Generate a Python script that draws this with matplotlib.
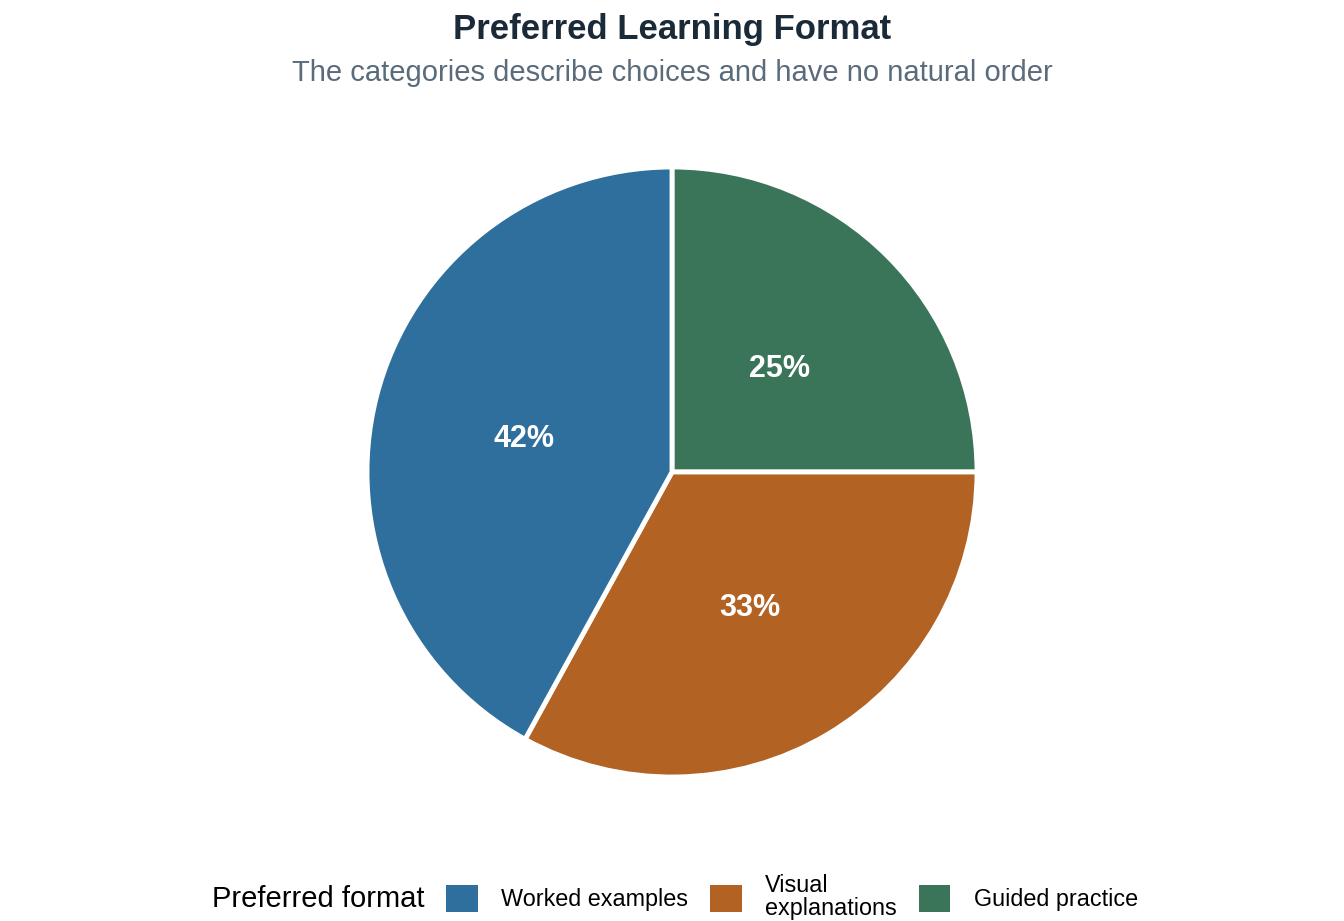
import numpy as np
import matplotlib.pyplot as plt
from matplotlib.patches import Patch

plt.rcParams['font.family'] = ['Liberation Sans', 'DejaVu Sans']

formats = ['Worked examples', 'Visual\nexplanations', 'Guided practice']
shares = [42, 33, 25]
colors = ['#2E6F9E', '#B26223', '#3A7459']

fig = plt.figure(figsize=(13.44, 9.21), dpi=100)
# pie centre ~ (672, 472) px, radius ~305 px
ax = fig.add_axes([(672 - 310) / 1344, 1 - (472 + 310) / 921, 620 / 1344, 620 / 921])

# draw clockwise from 12 o'clock, in reverse order so Guided practice comes first
vals = shares[::-1]
cols = colors[::-1]
r = 305 / 310
wedges, texts = ax.pie(vals, colors=cols, startangle=90, counterclock=False,
                       radius=r, wedgeprops=dict(edgecolor='white', linewidth=3.5))
start = 90
for v in vals:
    mid = np.deg2rad(start - v * 3.6 / 2)
    start -= v * 3.6
    ax.text(0.5 * r * np.cos(mid), 0.5 * r * np.sin(mid) - 0.015, f'{v}%',
            ha='center', va='center', color='white', fontsize=22, fontweight='bold')
ax.set_xlim(-1, 1)
ax.set_ylim(-1, 1)
ax.set_aspect('equal')
ax.axis('off')

fig.text(0.5, 1 - 29 / 921, 'Preferred Learning Format', ha='center', va='center',
         fontsize=25, fontweight='bold', color='#1B2A38')
fig.text(0.5, 1 - 73 / 921, 'The categories describe choices and have no natural order',
         ha='center', va='center', fontsize=21, color='#5A6B7B')

fig.text(212 / 1344, 1 - 899 / 921, 'Preferred format', ha='left', va='center',
         fontsize=21, color='black')
handles = [Patch(facecolor=c, edgecolor='none') for c in colors]
leg = fig.legend(handles, formats, ncol=3, loc='center left',
                 bbox_to_anchor=(446 / 1344, 1 - 897 / 921), frameon=False,
                 fontsize=16.8, handlelength=1.35, handleheight=1.4, handletextpad=1.0,
                 columnspacing=0.95, borderaxespad=0, borderpad=0)
for t in leg.get_texts():
    t.set_linespacing(0.95)

fig.savefig('out.png', dpi=100, facecolor='white')
